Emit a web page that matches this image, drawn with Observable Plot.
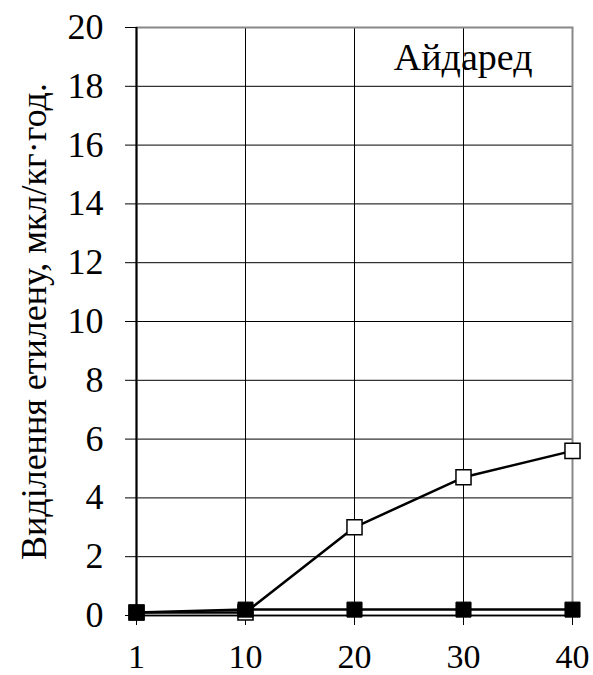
<!DOCTYPE html>
<html><head><meta charset="utf-8">
<script src="https://cdn.jsdelivr.net/npm/d3@7"></script>
<script src="https://cdn.jsdelivr.net/npm/@observablehq/plot@0.6"></script>
<style>
body{margin:0;background:#fff;}
</style>
</head><body>
<div id="chart"></div>
<script>
const days = ["1", "10", "20", "30", "40"];
const openSeries = [0.1, 0.1, 3.0, 4.7, 5.6];
const filledSeries = [0.1, 0.2, 0.2, 0.2, 0.2];
const yTicks = [0, 2, 4, 6, 8, 10, 12, 14, 16, 18, 20];
const yLabel = "Виділення етилену, мкл/кг·год.";
const title = "Айдаред";

const openData = days.map((d, i) => ({day: d, v: openSeries[i]}));
const filledData = days.map((d, i) => ({day: d, v: filledSeries[i]}));
const serif = "Liberation Serif";

const chart = Plot.plot({
  width: 593,
  height: 675,
  marginLeft: 136,
  marginRight: 21,
  marginTop: 27,
  marginBottom: 60,
  style: {fontSize: "36px", color: "#000", background: "#fff"},
  x: {type: "point", domain: days, padding: 0, label: null},
  y: {domain: [0, 20], label: null},
  marks: [
    Plot.gridY(yTicks, {stroke: "#000", strokeOpacity: 1, strokeWidth: 1}),
    Plot.gridX(days, {stroke: "#000", strokeOpacity: 1, strokeWidth: 1}),
    Plot.frame({stroke: "#888", strokeWidth: 2}),
    Plot.axisY(yTicks, {tickSize: 11, tickPadding: 22, fontSize: 36, stroke: "#000", label: null}),
    Plot.axisX(days, {tickSize: 10, tickPadding: 18, fontSize: 34, stroke: "#000", label: null}),
    Plot.ruleX([0], {x: () => "1", stroke: "#000", strokeWidth: 2}),
    Plot.ruleY([0], {stroke: "#000", strokeWidth: 1.5}),
    Plot.line(openData, {x: "day", y: "v", stroke: "#000", strokeWidth: 2.5}),
    Plot.dot(openData, {x: "day", y: "v", symbol: "square", r: 8.5, fill: "#fff", stroke: "#000", strokeWidth: 1.5}),
    Plot.line(filledData, {x: "day", y: "v", stroke: "#000", strokeWidth: 2.5}),
    Plot.dot(filledData, {x: "day", y: "v", symbol: "square", r: 8.5, fill: "#000", stroke: "#000", strokeWidth: 1}),
    Plot.text([title], {frameAnchor: "top-right", dx: -40, dy: 16, textAnchor: "end", fontSize: 38, fill: "#000"}),
    Plot.text([yLabel], {frameAnchor: "left", textAnchor: "middle", dx: -102, dy: 0, rotate: -90, fontSize: 36, fill: "#000"})
  ]
});
d3.select(chart).style("font-family", serif);
d3.select(chart).selectAll("text, g").attr("font-family", serif).style("font-family", serif);
document.getElementById("chart").appendChild(chart);
</script>
</body></html>
